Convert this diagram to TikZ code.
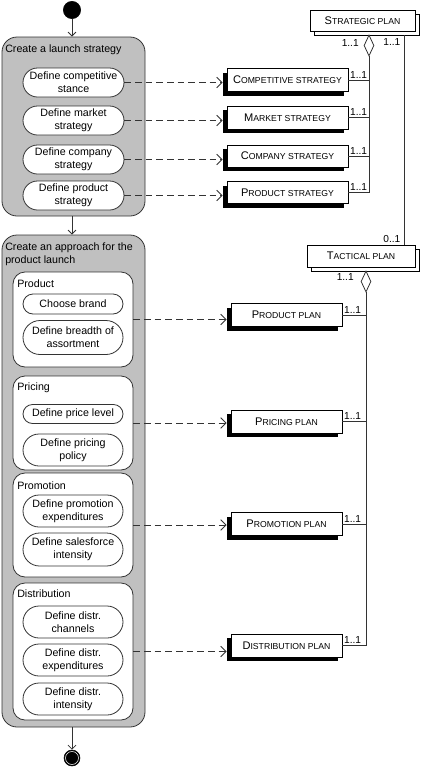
\documentclass[tikz,border=0pt]{standalone}
\usepackage{fontspec}
\setmainfont{Liberation Sans}
\usetikzlibrary{arrows.meta,shapes.misc,shapes.geometric,shadows}
\definecolor{contfill}{HTML}{C0C0C0}
\definecolor{lncol}{HTML}{333333}
\newcommand\actfont{\fontsize{8pt}{9.75pt}\selectfont}
\newcommand\multfont{\fontsize{7.6pt}{8pt}\selectfont}
\newcommand\scap[2]{{\fontsize{8.3pt}{9pt}\selectfont #1}{\fontsize{6.5pt}{9pt}\selectfont #2}}
\begin{document}
\begin{tikzpicture}[x=0.75pt,y=-0.75pt,
  wh/.style 2 args={minimum width=#1*0.75pt, minimum height=#2*0.75pt},
  container/.style={draw=lncol, fill=contfill, rounded corners=11.25pt, line width=0.6pt, inner sep=0pt},
  grp/.style={draw=lncol, fill=white, rounded corners=9pt, line width=0.6pt, inner sep=0pt},
  act/.style={rounded rectangle, draw=lncol, fill=white, line width=0.6pt, align=center, inner sep=0pt, font=\actfont},
  lbl/.style={inner sep=0pt, font=\actfont, align=left},
  concept/.style={rectangle, draw=black, fill=white, line width=0.6pt, inner sep=0pt,
    drop shadow={shadow xshift=-3pt, shadow yshift=-3pt, fill=black, opacity=1}},
  plan/.style={rectangle, draw=black, fill=white, line width=0.6pt, inner sep=0pt,
    copy shadow={shadow xshift=3pt, shadow yshift=-3pt, draw=black, fill=white}},
  agg/.style={diamond, draw=lncol, fill=white, line width=0.6pt, inner sep=0pt},
  mult/.style={inner sep=1pt, font=\multfont},
  flow/.style={draw=lncol, line width=0.6pt, -{Straight Barb[length=3pt,width=6pt]}},
  dep/.style={draw=lncol, line width=0.6pt, dash pattern=on 5pt off 3pt, shorten >=3pt, -{Straight Barb[length=4pt,width=8pt]}},
  assoc/.style={draw=lncol, line width=0.6pt},
  startdot/.style={circle, fill=black, draw=black, inner sep=0pt, minimum size=13pt},
  enddot/.style={circle, fill=black, draw=black, inner sep=0pt, minimum size=12pt}]
\useasboundingbox (0,0) rectangle (424,768);

% initial and launch strategy
\node[startdot] (start) at (72,10) {};
\node[container, wh={143}{179}] (launch) at (73.5,126.5) {};
\node[lbl, anchor=base west] (launchl) at (5,52) {Create a launch strategy};
\node[act, wh={101}{29}] (a1) at (73.5,82.5) {Define competitive\\stance};
\node[act, wh={101}{29}] (a2) at (73.5,120.5) {Define market\\strategy};
\node[act, wh={101}{29}] (a3) at (73.5,159.5) {Define company\\strategy};
\node[act, wh={101}{29}] (a4) at (73.5,195.5) {Define product\\strategy};

% approach
\node[container, wh={143}{492}] (approach) at (73.5,481) {};
\node[lbl, anchor=base west] (approachl) at (5,263.5) {Create an approach for the\\product launch};

\node[grp, wh={120}{95}] (g1) at (73,319.5) {};
\node[lbl, anchor=base west] (g1l) at (17,287) {Product};
\node[act, wh={100}{20}] (b1) at (73,304) {Choose brand};
\node[act, wh={100}{34}] (b2) at (73,337.5) {Define breadth of\\assortment};

\node[grp, wh={120}{94}] (g2) at (73,423) {};
\node[lbl, anchor=base west] (g2l) at (17,390) {Pricing};
\node[act, wh={100}{19}] (c1) at (73,414) {Define price level};
\node[act, wh={100}{32}] (c2) at (73,450) {Define pricing\\policy};

\node[grp, wh={120}{104}] (g3) at (73,525) {};
\node[lbl, anchor=base west] (g3l) at (17,489) {Promotion};
\node[act, wh={100}{32}] (d1) at (73,511) {Define promotion\\expenditures};
\node[act, wh={100}{33}] (d2) at (73,549.5) {Define salesforce\\intensity};

\node[grp, wh={120}{137}] (g4) at (73,651.5) {};
\node[lbl, anchor=base west] (g4l) at (17,597) {Distribution};
\node[act, wh={100}{32}] (e1) at (73,622) {Define distr.\\channels};
\node[act, wh={100}{32}] (e2) at (73,660) {Define distr.\\expenditures};
\node[act, wh={100}{32}] (e3) at (73,699) {Define distr.\\intensity};

\node[enddot] (end) at (72,758) {};
\draw[white, line width=0.4pt] (end.center) circle[radius=6.5];

% control flow
\draw[flow] (start.south) -- (start |- launch.north);
\draw[flow] (launch.south -| start) -- (approach.north -| start);
\draw[flow] (approach.south -| start) -- (end.north);

% strategic plan side
\node[plan, wh={105}{21}] (sp) at (362.5,20.5) {\scap{S}{TRATEGIC PLAN}};
\node[agg, wh={10}{21}] (sd) at (369,45.5) {};
\node[concept, wh={121}{23}] (cs) at (287.5,80) {\scap{C}{OMPETITIVE STRATEGY}};
\node[concept, wh={121}{23}] (ms) at (287.5,117.5) {\scap{M}{ARKET STRATEGY}};
\node[concept, wh={121}{22}] (cos) at (287.5,156) {\scap{C}{OMPANY STRATEGY}};
\node[concept, wh={121}{22}] (ps) at (287.5,192.5) {\scap{P}{RODUCT STRATEGY}};
\node[mult, anchor=east] (sdl) at ([xshift=-2.5pt,yshift=1.5pt]sd.west) {1..1};

\draw[assoc] (sd.south) -- (sd.south |- ps.east);
\draw[assoc] (cs.east) -- (cs.east -| sd.south) node[mult, pos=0, anchor=south west] {1..1};
\draw[assoc] (ms.east) -- (ms.east -| sd.south) node[mult, pos=0, anchor=south west] {1..1};
\draw[assoc] (cos.east) -- (cos.east -| sd.south) node[mult, pos=0, anchor=south west] {1..1};
\draw[assoc] (ps.east) -- (ps.east -| sd.south) node[mult, pos=0, anchor=south west] {1..1};

\draw[dep] (a1.east) -- (a1.east -| cs.west);
\draw[dep] (a2.east) -- (a2.east -| ms.west);
\draw[dep] (a3.east) -- (a3.east -| cos.west);
\draw[dep] (a4.east) -- (a4.east -| ps.west);

% tactical plan side
\coordinate (sx) at (404,0);
\node[plan, wh={108}{22}] (tp) at (361,256) {\scap{T}{ACTICAL PLAN}};
\draw[assoc] ([yshift=-3pt]sp.south -| sx) -- (tp.north -| sx)
  node[mult, pos=0, anchor=north east, xshift=-1.5pt, yshift=-1pt] {1..1}
  node[mult, pos=1, anchor=south east, xshift=-1.5pt] {0..1};
\node[agg, wh={10}{21}] (td) at (366,281.5) {};
\node[mult, anchor=east] (tdl) at ([xshift=-4pt,yshift=3pt]td.west) {1..1};

\node[concept, wh={111}{23}] (pp) at (286.5,315) {\scap{P}{RODUCT PLAN}};
\node[concept, wh={111}{23}] (prp) at (286.5,421.5) {\scap{P}{RICING PLAN}};
\node[concept, wh={111}{23}] (pmp) at (286.5,524) {\scap{P}{ROMOTION PLAN}};
\node[concept, wh={111}{23}] (dp) at (286.5,645.5) {\scap{D}{ISTRIBUTION PLAN}};

\draw[assoc] (td.south) -- (td.south |- dp.east);
\draw[assoc] (pp.east) -- (pp.east -| td.south) node[mult, pos=0, anchor=south west] {1..1};
\draw[assoc] (prp.east) -- (prp.east -| td.south) node[mult, pos=0, anchor=south west] {1..1};
\draw[assoc] (pmp.east) -- (pmp.east -| td.south) node[mult, pos=0, anchor=south west] {1..1};
\draw[assoc] (dp.east) -- (dp.east -| td.south) node[mult, pos=0, anchor=south west] {1..1};

\draw[dep] (g1.east) -- (g1.east -| pp.west);
\draw[dep] (g2.east) -- (g2.east -| prp.west);
\draw[dep] (g3.east) -- (g3.east -| pmp.west);
\draw[dep] (g4.east) -- (g4.east -| dp.west);
\end{tikzpicture}
\end{document}
